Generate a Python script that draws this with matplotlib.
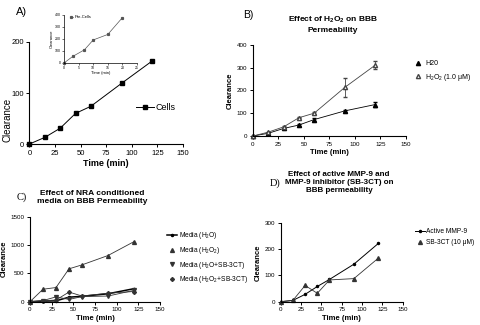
import matplotlib
matplotlib.use("Agg")
import matplotlib.pyplot as plt

plt.rcParams['font.family'] = ['Liberation Sans', 'DejaVu Sans']
plt.rcParams['mathtext.fontset'] = 'custom'
plt.rcParams['mathtext.rm'] = 'Liberation Sans'
plt.rcParams['mathtext.bf'] = 'Liberation Sans:bold'
plt.rcParams['mathtext.default'] = 'regular'

# ---- data ----
time = [0, 15, 30, 45, 60, 90, 120]

# A) clearance with cells
cells = [0, 13, 31, 60, 74, 119, 163]
# A inset) clearance without cells
inset_time = [0, 3, 7, 10, 15, 20]
pre_cells = [0, 55, 110, 192, 238, 378]

# B) H2O vs H2O2
h2o = [0, 12, 33, 48, 72, 110, 138]
h2o_err = [0, 2, 3, 3, 5, 5, 12]
h2o2 = [0, 17, 40, 80, 100, 213, 311]
h2o2_err = [0, 2, 3, 3, 3, 42, 17]

# C) NRA conditioned media
media_h2o = [0, 10, 15, 80, 95, 140, 230]
media_h2o2 = [0, 220, 250, 580, 650, 815, 1060]
media_h2o_sb = [0, 20, 85, 40, 90, 100, 200]
media_h2o2_sb = [0, 15, 30, 170, 100, 150, 180]

# D) active MMP-9 and SB-3CT
active_mmp9 = [0, 5, 28, 58, 85, 143, 222]
sb3ct = [0, 5, 62, 32, 83, 88, 166]

W, H = 481, 325
fig = plt.figure(figsize=(W / 100, H / 100), dpi=100)


def add_ax(x0, y0, x1, y1):
    return fig.add_axes([x0 / W, 1 - y1 / H, (x1 - x0) / W, (y1 - y0) / H])


def style(ax, xlim, ylim, xticks, yticks, fs=4.5):
    ax.set_xlim(*xlim)
    ax.set_ylim(*ylim)
    ax.set_xticks(xticks)
    ax.set_yticks(yticks)
    for s in ('top', 'right'):
        ax.spines[s].set_visible(False)
    for s in ('left', 'bottom'):
        ax.spines[s].set_linewidth(0.8)
    ax.tick_params(direction='out', length=2.5, width=0.7, labelsize=fs, pad=1.5)


def fx(px):
    return px / W


def fy(py):
    return 1 - py / H


lc = '#333333'

# ---- A ----
axA = add_ax(29.5, 42, 183, 144)
style(axA, (0, 150), (0, 200), range(0, 151, 25), [0, 100, 200], fs=5.5)
axA.plot(time, cells, '-s', color='black', lw=0.7, ms=3.2, clip_on=False, label='Cells')
axA.set_xlabel('Time (min)', fontsize=6.5, fontweight='bold', labelpad=2)
axA.set_ylabel('Clearance', fontsize=7, labelpad=1)
axA.yaxis.set_label_coords(-0.11, 0.24)
axA.legend(loc='center left', bbox_to_anchor=(fx(131), fy(108)), bbox_transform=fig.transFigure,
           frameon=False, fontsize=6.5, handlelength=2.0, handletextpad=0.2, borderpad=0)
fig.text(fx(16), fy(12), 'A)', fontsize=8, va='center')

# inset
axI = add_ax(64, 15, 137, 63)
style(axI, (0, 25), (0, 400), range(0, 26, 5), range(0, 401, 100), fs=2.5)
axI.tick_params(length=1.2, width=0.4, pad=0.8)
for s in ('left', 'bottom'):
    axI.spines[s].set_linewidth(0.5)
axI.plot(inset_time, pre_cells, '-s', color='#555555', lw=0.5, ms=1.3, clip_on=False, label='Pre-Cells')
axI.set_xlabel('Time (min)', fontsize=3, labelpad=1)
axI.set_ylabel('Clearance', fontsize=3, labelpad=1)
axI.legend(loc='upper left', bbox_to_anchor=(fx(68), fy(13)), bbox_transform=fig.transFigure,
           frameon=False, fontsize=3, handlelength=0.6, handletextpad=0.4, borderpad=0, markerscale=1)

# ---- B ----
axB = add_ax(253, 44.7, 406, 136)
style(axB, (0, 150), (0, 400), range(0, 151, 25), range(0, 401, 100))
axB.errorbar(time, h2o, yerr=h2o_err, fmt='-^', color='black', mfc='black', lw=0.6, ms=3.0,
             elinewidth=0.6, capsize=1.5, clip_on=False, label='H20')
axB.errorbar(time, h2o2, yerr=h2o2_err, fmt='-^', color='#444444', mfc='white', mec='#444444', lw=0.6,
             ms=3.0, elinewidth=0.6, capsize=1.5, clip_on=False, label=r'H$_2$O$_2$ (1.0 μM)')
axB.set_xlabel('Time (min)', fontsize=5.5, fontweight='bold', labelpad=2)
axB.set_ylabel('Clearance', fontsize=5.5, fontweight='bold', labelpad=2)
hB, lB = axB.get_legend_handles_labels()
legB = axB.legend([h[0] for h in hB], lB, loc='upper left', bbox_to_anchor=(fx(411), fy(57)),
                  bbox_transform=fig.transFigure, frameon=False, fontsize=5, handlelength=1.0,
                  handletextpad=0.5, borderpad=0, labelspacing=0.6)
for h in legB.legend_handles:
    h.set_linestyle('none')
fig.text(fx(333), fy(24.5), 'Effect of H$_\\mathbf{2}$O$_\\mathbf{2}$ on BBB\nPermeability',
         fontsize=6, fontweight='bold', ha='center', va='center', linespacing=1.35)
fig.text(fx(243), fy(15), 'B)', fontsize=7.5, va='center')

# ---- C ----
axC = add_ax(30, 216.7, 160, 301.7)
style(axC, (0, 150), (0, 1500), range(0, 151, 25), range(0, 1501, 500))
axC.plot(time, media_h2o, '-o', color='black', lw=1.1, ms=1.5, clip_on=False, label='Media (H$_2$O)')
axC.plot(time, media_h2o2, '-^', color=lc, lw=0.6, ms=2.8, clip_on=False, label='Media (H$_2$O$_2$)')
axC.plot(time, media_h2o_sb, '-v', color=lc, lw=0.6, ms=2.8, clip_on=False,
         label='Media (H$_2$O+SB-3CT)')
axC.plot(time, media_h2o2_sb, '-D', color=lc, lw=0.6, ms=2.0, clip_on=False,
         label='Media (H$_2$O$_2$+SB-3CT)')
axC.set_xlabel('Time (min)', fontsize=5.5, fontweight='bold', labelpad=2)
axC.set_ylabel('Clearance', fontsize=5.5, fontweight='bold', labelpad=2)
legC = axC.legend(loc='upper left', bbox_to_anchor=(fx(164), fy(227)), bbox_transform=fig.transFigure,
                  frameon=False, fontsize=4.8, handlelength=1.5, handletextpad=0.2, borderpad=0,
                  labelspacing=0.55)
for h in legC.legend_handles[1:]:
    h.set_linestyle('none')
fig.text(fx(92), fy(197.5), 'Effect of NRA conditioned\nmedia on BBB Permeability',
         fontsize=6, fontweight='bold', ha='center', va='center', linespacing=1.25)
fig.text(fx(17), fy(197), 'C)', fontsize=7.5, va='center', family='Liberation Serif')

# ---- D ----
axD = add_ax(280.7, 223, 402.7, 301.7)
style(axD, (0, 150), (0, 300), range(0, 151, 25), range(0, 301, 100))
axD.plot(time, active_mmp9, '-o', color='black', lw=0.7, ms=1.5, clip_on=False, label='Active MMP-9')
axD.plot(time, sb3ct, '-^', color=lc, lw=0.6, ms=2.8, clip_on=False, label='SB-3CT (10 μM)')
axD.set_xlabel('Time (min)', fontsize=5.5, fontweight='bold', labelpad=2)
axD.set_ylabel('Clearance', fontsize=5.5, fontweight='bold', labelpad=2)
legD = axD.legend(loc='upper left', bbox_to_anchor=(fx(412), fy(225)), bbox_transform=fig.transFigure,
                  frameon=False, fontsize=4.8, handlelength=1.4, handletextpad=0.2, borderpad=0,
                  labelspacing=0.6)
legD.legend_handles[1].set_linestyle('none')
fig.text(fx(339), fy(183), 'Effect of active MMP-9 and\nMMP-9 inhibitor (SB-3CT) on\nBBB permeability',
         fontsize=5.8, fontweight='bold', ha='center', va='center', linespacing=1.2)
fig.text(fx(270), fy(183), 'D)', fontsize=7.5, va='center', family='Liberation Serif')

fig.savefig('out.png', dpi=100)
